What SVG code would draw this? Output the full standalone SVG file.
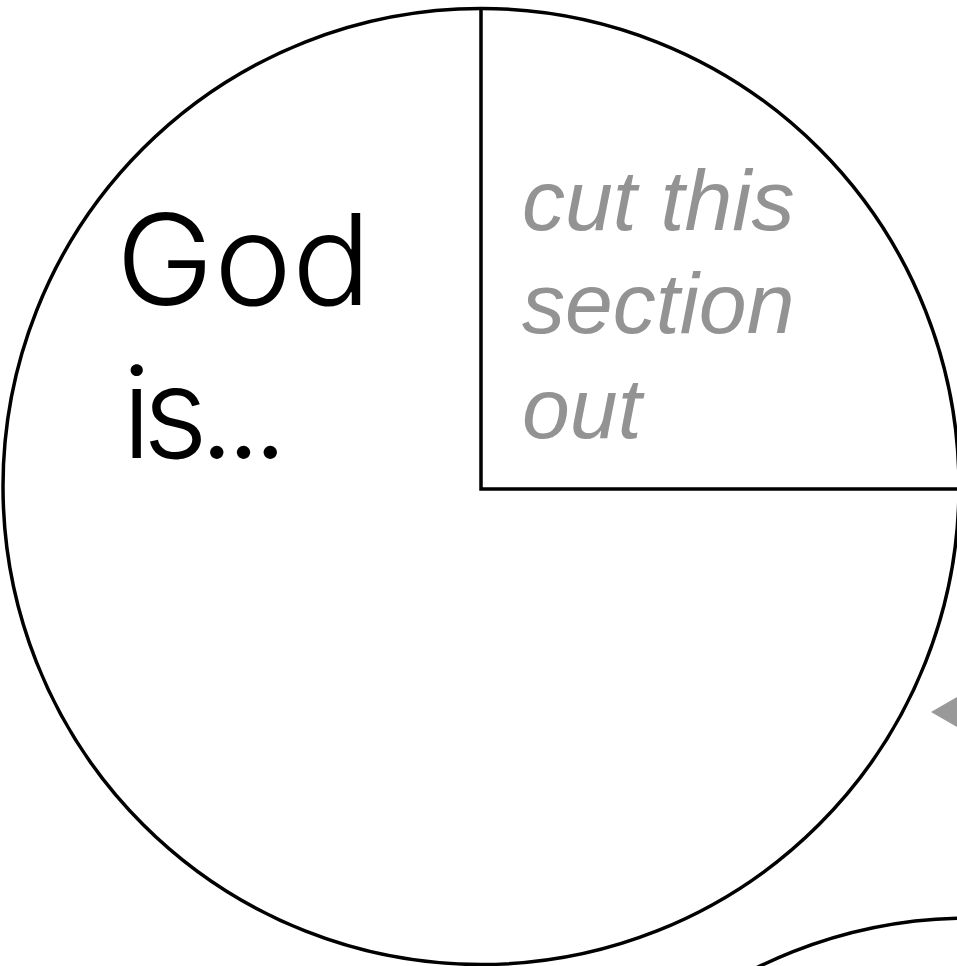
<svg xmlns="http://www.w3.org/2000/svg" width="957" height="966" viewBox="0 0 957 966">
<style>
.ln{fill:none;stroke:#000;stroke-width:3.5}
.god{font-family:Inter,Lato,"Liberation Sans",sans-serif;font-size:126px;font-weight:300;fill:#000}
.cut{font-family:"Liberation Sans",Arial,sans-serif;font-style:italic;font-size:86px;fill:#939393}
</style>
<rect width="957" height="966" fill="#fff"/>
<g id="circle">
<circle class="ln" cx="481" cy="486.5" r="478"/>
<path class="ln" d="M481 8 V489 H957"/>
</g>
<g id="circle2">
<circle class="ln" cx="969" cy="1396" r="478"/>
</g>
<g id="arrow">
<polygon points="931,712 957,697 957,727" fill="#999"/>
</g>
<g id="label-god">
<text class="god" transform="translate(116,305) scale(1.045,1)" x="0" y="0">God</text>
<text class="god" x="122" y="458" textLength="166" lengthAdjust="spacing">is...</text>
</g>
<g id="label-cut">
<text class="cut" x="522" y="230">cut this</text>
<text class="cut" x="522" y="333">section</text>
<text class="cut" x="522" y="438">out</text>
</g>
</svg>
